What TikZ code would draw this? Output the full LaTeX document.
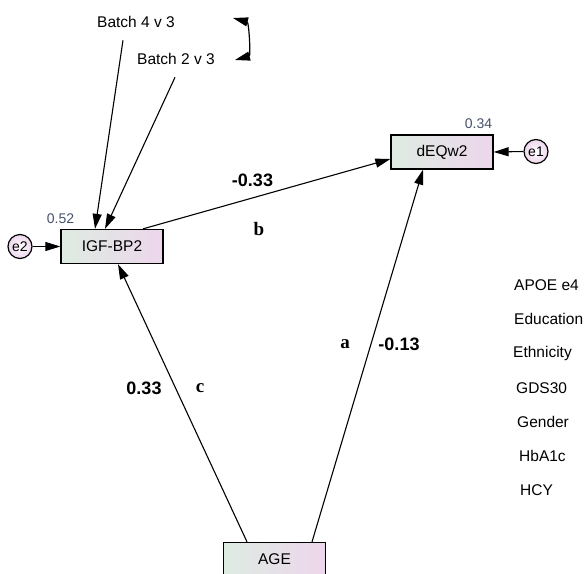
\documentclass[tikz,border=0pt]{standalone}
\usepackage{fontspec}
\setmainfont{Liberation Sans}
\newfontfamily\tnr{Liberation Serif}
\usetikzlibrary{arrows.meta, shadings}

\definecolor{boxl}{RGB}{222,236,226}
\definecolor{boxr}{RGB}{237,214,236}
\definecolor{varnum}{RGB}{70,80,105}

\begin{document}
\begin{tikzpicture}[x=1pt, y=1pt,
    var/.style={draw, line width=1.3pt, left color=boxl, right color=boxr,
      minimum width=102pt, minimum height=34pt, font=\fontsize{15.5}{17}\selectfont},
    err/.style={circle, draw, line width=1.2pt, inner color=white, outer color=boxr,
      minimum size=24pt, inner sep=0pt, font=\fontsize{14}{15}\selectfont},
    reg/.style={line width=1.1pt, -{Triangle[length=15pt, width=9pt]}},
    coef/.style={font=\fontsize{18}{20}\selectfont\bfseries},
    lett/.style={font=\fontsize{19}{20}\selectfont\tnr\bfseries},
    vnum/.style={text=varnum, font=\fontsize{14}{15}\selectfont},
    lbl/.style={inner sep=0pt, font=\fontsize{15.5}{17}\selectfont}]
    \useasboundingbox (0,0) rectangle (585,-573);

    % observed variables
    \node[var] (igf) at (112,-246.5) {IGF-BP2};
    \node[var] (deq) at (442,-152) {dEQw2};
    \node[var] (age) at (274.5,-559.5) {AGE};

    % error terms
    \node[err] (e2) at (20,-246.5) {e2};
    \node[err] (e1) at (536,-151.5) {e1};

    % batch dummies
    \node[lbl] (b4) at (136,-22) {Batch 4 v 3};
    \node[lbl] (b2) at (176,-58.5) {Batch 2 v 3};
    \coordinate (c4) at (233,-18);
    \coordinate (c2) at (235,-60);

    \draw[reg] ([shift={(-13,-12.4)}]b4.south) -- ([xshift=-17]igf.north);
    \draw[reg] ([shift={(-1,-12.9)}]b2.south) -- ([xshift=-7]igf.north);
    \draw[line width=1.2pt, {Triangle[length=15pt, width=9pt]}-{Triangle[length=15pt, width=9pt]}]
      (c4) to[out=-15, in=15] (c2);

    \draw[reg] (e2.east) -- (igf.west);
    \draw[reg] (e1.west) -- (deq.east);
    \draw[reg] ([xshift=31]igf.north) -- ([yshift=-7]deq.west);
    \draw[reg] ([xshift=-27.5]age.north) -- ([xshift=6]igf.south);
    \draw[reg] ([xshift=37.5]age.north) -- ([xshift=-19]deq.south);

    % estimates
    \node[vnum] (r2) at (60.5,-219) {0.52};
    \node[vnum] (r1) at (478.5,-123.5) {0.34};
    \node[coef] (cb) at (252.5,-180) {-0.33};
    \node[lett] (lb) at (259,-228.5) {b};
    \node[coef] (cc) at (144,-388) {0.33};
    \node[lett] (lc) at (200,-388) {c};
    \node[lett] (la) at (345,-344) {a};
    \node[coef] (ca) at (399,-344) {-0.13};

    % covariates
    \foreach \t/\x/\y [count=\i] in {APOE e4/514/285, Education/514/319,
        Ethnicity/513/353, GDS30/516/388, Gender/517/422, HbA1c/519/456, HCY/520/490}
      \node[lbl, anchor=west] (cv\i) at (\x,-\y) {\t};
  \end{tikzpicture}
\end{document}
